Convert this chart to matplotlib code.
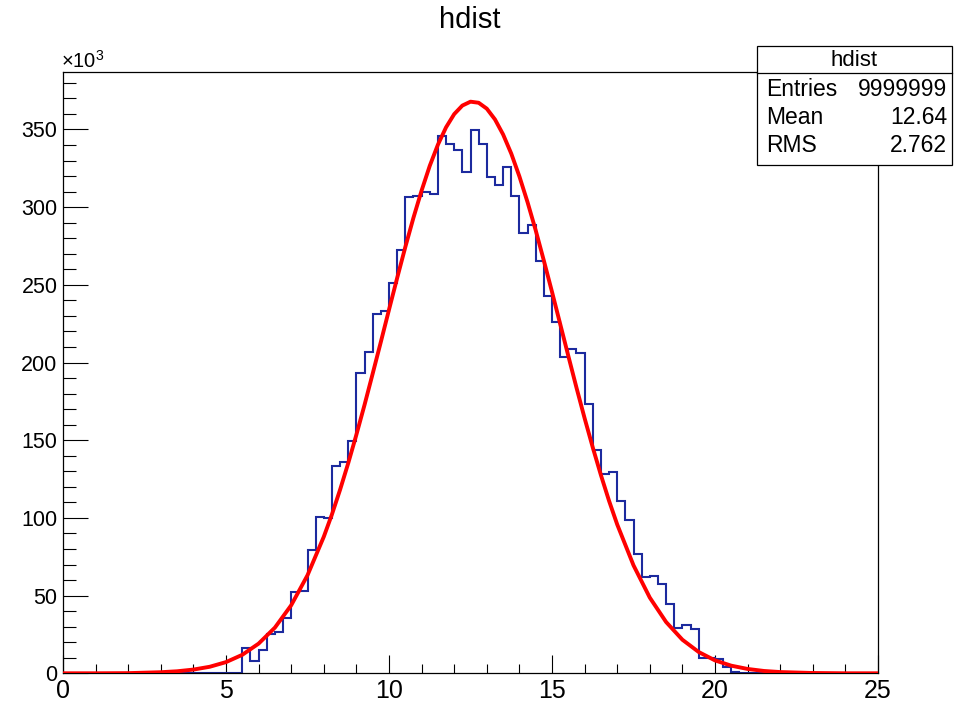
import numpy as np
import matplotlib
matplotlib.use('Agg')
import matplotlib.pyplot as plt
from matplotlib.patches import Rectangle
from matplotlib.ticker import MultipleLocator

plt.rcParams['font.family'] = ['Liberation Sans', 'DejaVu Sans']

# histogram: 100 bins from 0 to 25, counts in thousands
x_lo, x_hi, n_bins = 0, 25, 100
counts = [0]*22 + [
    16.1, 8.0, 15.3, 25.4, 26.3, 35.8, 52.4, 53.0,          # 5.50 - 7.50
    79.1, 100.5, 100.0, 133.3, 135.7, 149.8, 193.0, 206.6,  # 7.50 - 9.50
    231.3, 233.4, 251.0, 272.5, 306.3, 307.4, 309.5, 308.5, # 9.50 - 11.50
    345.5, 340.6, 337.0, 322.8, 349.6, 340.6, 319.6, 314.3, # 11.50 - 13.50
    325.6, 307.2, 283.4, 288.7, 265.2, 242.6, 226.2, 203.4, # 13.50 - 15.50
    208.4, 206.0, 173.4, 143.4, 128.4, 129.5, 110.8, 98.4,  # 15.50 - 17.50
    76.5, 61.8, 62.4, 57.3, 44.9, 29.4, 30.8, 28.2,         # 17.50 - 19.50
    10.0, 9.9, 9.0, 4.3, 1.0, 0.3,                          # 19.50 - 21.00
] + [0]*16

# fitted curve as drawn (red), in thousands
fit_x = [0, 1, 2, 3, 3.5, 4, 4.5, 5, 5.5, 6, 6.5, 7, 7.5, 8, 8.25, 8.5, 8.75,
         9, 9.25, 9.5, 9.75, 10, 10.25, 10.5, 10.75, 11, 11.25, 11.5, 11.75,
         12, 12.25, 12.5, 12.75, 13, 13.25, 13.5, 13.75, 14, 14.25, 14.5,
         14.75, 15, 15.25, 15.5, 15.75, 16, 16.25, 16.5, 16.75, 17, 17.5, 18,
         18.5, 19, 19.5, 20, 20.5, 21, 21.5, 22, 23, 24, 25]
fit_y = [0.0, 0.0, 0.1, 0.7, 1.3, 2.4, 4.2, 7.2, 11.9, 19.1, 29.4, 43.8, 63.1,
         87.9, 102.3, 118.2, 135.3, 153.6, 172.8, 192.9, 213.3, 234.0, 254.4,
         274.3, 293.2, 310.7, 326.6, 340.2, 351.4, 359.9, 365.4, 367.9, 367.2,
         363.4, 356.5, 346.8, 334.5, 319.8, 303.2, 285.1, 265.6, 245.5, 224.9,
         204.3, 183.9, 164.2, 145.4, 127.6, 111.0, 95.8, 69.5, 48.7, 33.0,
         21.6, 13.7, 8.3, 4.9, 2.8, 1.5, 0.8, 0.2, 0.0, 0.0]

stats_title = 'hdist'
stats_rows = [('Entries', '9999999'), ('Mean', '12.64'), ('RMS', '2.762')]

W, H = 968, 701
fig = plt.figure(figsize=(W/100, H/100), dpi=100)
ax = fig.add_axes([63/W, 27.7/H, (878-63)/W, (673.3-72)/H])

edges = np.linspace(x_lo, x_hi, n_bins + 1)
ax.stairs(counts, edges, color='#1c2a9e', linewidth=1.5, zorder=2)
ax.plot(fit_x, fit_y, color='#ff0000', linewidth=2.8, zorder=3,
        solid_joinstyle='round')

ax.set_xlim(x_lo, x_hi)
ax.set_ylim(0, 387)
ax.xaxis.set_major_locator(MultipleLocator(5))
ax.xaxis.set_minor_locator(MultipleLocator(1))
ax.yaxis.set_major_locator(MultipleLocator(50))
ax.yaxis.set_minor_locator(MultipleLocator(10))
ax.tick_params(axis='x', which='major', direction='in', length=13, width=0.8,
               pad=4, labelsize=18)
ax.tick_params(axis='x', which='minor', direction='in', length=6.5, width=0.8)
ax.tick_params(axis='y', which='major', direction='in', length=18, width=0.8,
               pad=4, labelsize=15.5)
ax.tick_params(axis='y', which='minor', direction='in', length=9.5, width=0.8)
for s in ax.spines.values():
    s.set_linewidth(0.9)

fig.text(470/W, 1 - 20/H, 'hdist', ha='center', va='center', fontsize=21)
# axis multiplier, drawn as one mathtext string
fig.text(61/W, 1 - 68/H, r'$\mathregular{\times10^{3}}$', ha='left',
         va='baseline', fontsize=14.5)

# stats box
bx0, bx1, by0, by1, bsep = 757, 952, 46, 165, 73.3
fig.patches.append(Rectangle((bx0/W, 1 - by1/H), (bx1-bx0)/W, (by1-by0)/H,
                             transform=fig.transFigure, facecolor='white',
                             edgecolor='black', linewidth=0.9, zorder=5))
fig.lines.append(plt.Line2D([bx0/W, bx1/W], [1 - bsep/H, 1 - bsep/H],
                            transform=fig.transFigure, color='black',
                            linewidth=0.9, zorder=6))
fig.text((bx0+bx1)/2/W, 1 - 60/H, stats_title, ha='center', va='center',
         fontsize=16, zorder=7)
for i, (lab, val) in enumerate(stats_rows):
    yy = 1 - (90 + i*27.5)/H
    fig.text(766/W, yy, lab, ha='left', va='center', fontsize=16.5, zorder=7)
    fig.text(947/W, yy, val, ha='right', va='center', fontsize=16.5, zorder=7)

fig.savefig('out.png', dpi=100)
